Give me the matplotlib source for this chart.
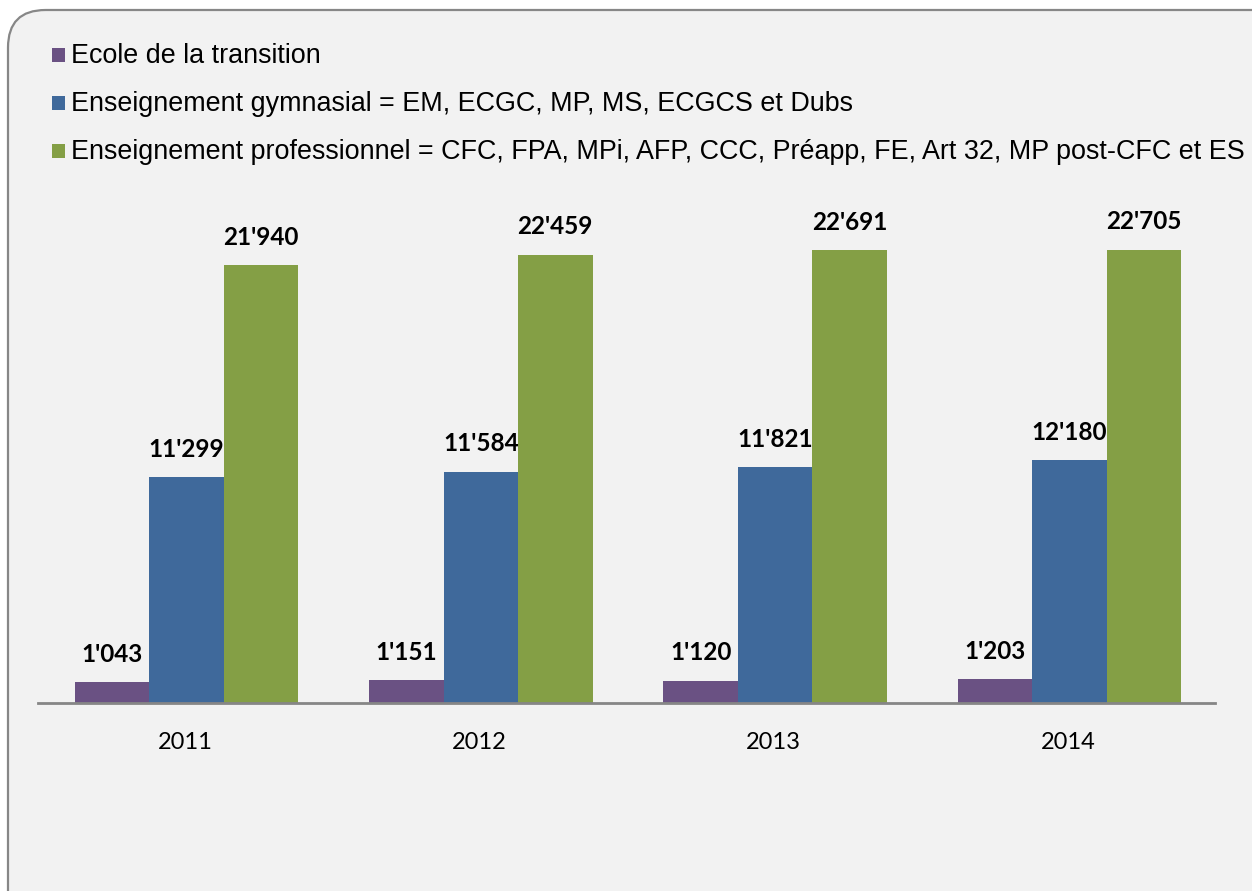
import matplotlib.pyplot as plt
from matplotlib.patches import FancyBboxPatch, Rectangle
import numpy as np

years = ["2011", "2012", "2013", "2014"]
series = ["Ecole de la transition",
          "Enseignement gymnasial = EM, ECGC, MP, MS, ECGCS et Dubs",
          "Enseignement professionnel = CFC, FPA, MPi, AFP, CCC, Préapp, FE, Art 32, MP post-CFC et ES"]
transition = [1043, 1151, 1120, 1203]
gymnasial = [11299, 11584, 11821, 12180]
professionnel = [21940, 22459, 22691, 22705]
colors = ["#6a5183", "#3f699b", "#849f45"]

W, H = 1252, 891
fig = plt.figure(figsize=(W / 100, H / 100), dpi=100)
fig.patch.set_facecolor("white")

# rounded frame, cut off at the right and bottom
frame = FancyBboxPatch((8 / W, -40 / H), (W + 40) / W, (H - 10 + 40) / H,
                       boxstyle="round,pad=0,rounding_size=0.03",
                       transform=fig.transFigure, facecolor="#f2f2f2",
                       edgecolor="#878787", linewidth=1.6, mutation_aspect=W / H,
                       zorder=0)
fig.patches.append(frame)

# legend drawn by hand
leg_y = [55, 103, 151]
for name, c, y in zip(series, colors, leg_y):
    fig.patches.append(Rectangle((52 / W, 1 - (y + 7) / H), 13 / W, 14 / H,
                                 transform=fig.transFigure, facecolor=c, edgecolor="none"))
    fig.text(71 / W, 1 - (y + 1) / H, name, fontsize=19.4, family="Liberation Sans",
             va="center", ha="left", color="black")

# plot area
x0, x1, yb, yt = 38, 1215, 703, 180
ax = fig.add_axes([x0 / W, 1 - yb / H, (x1 - x0) / W, (yb - yt) / H])
ax.set_zorder(3)
ax.set_facecolor("none")
px_per_unit = (703 - 265) / 21940
ax.set_ylim(0, (yb - yt) / px_per_unit)
ax.set_xlim(-0.5, 3.5)

x = np.arange(len(years))
bw = 0.253
for i, (vals, c) in enumerate(zip([transition, gymnasial, professionnel], colors)):
    pos = x + (i - 1) * bw + 0.005
    ax.bar(pos, vals, bw, color=c, edgecolor="none")
    for p, v in zip(pos, vals):
        lab = f"{v:,}".replace(",", "'")
        ax.annotate(lab, (p, v), xytext=(0, 20), textcoords="offset points",
                    ha="center", va="center", fontsize=17.5, fontweight="bold",
                    family="Lato", color="black")

for s in ["top", "right", "left"]:
    ax.spines[s].set_visible(False)
ax.spines["bottom"].set_color("#868686")
ax.spines["bottom"].set_linewidth(2)
ax.set_yticks([])
ax.set_xticks(x)
ax.set_xticklabels(years, fontsize=17, family="Lato")
ax.tick_params(axis="x", length=0, pad=21)

fig.savefig("out.png", dpi=100)
